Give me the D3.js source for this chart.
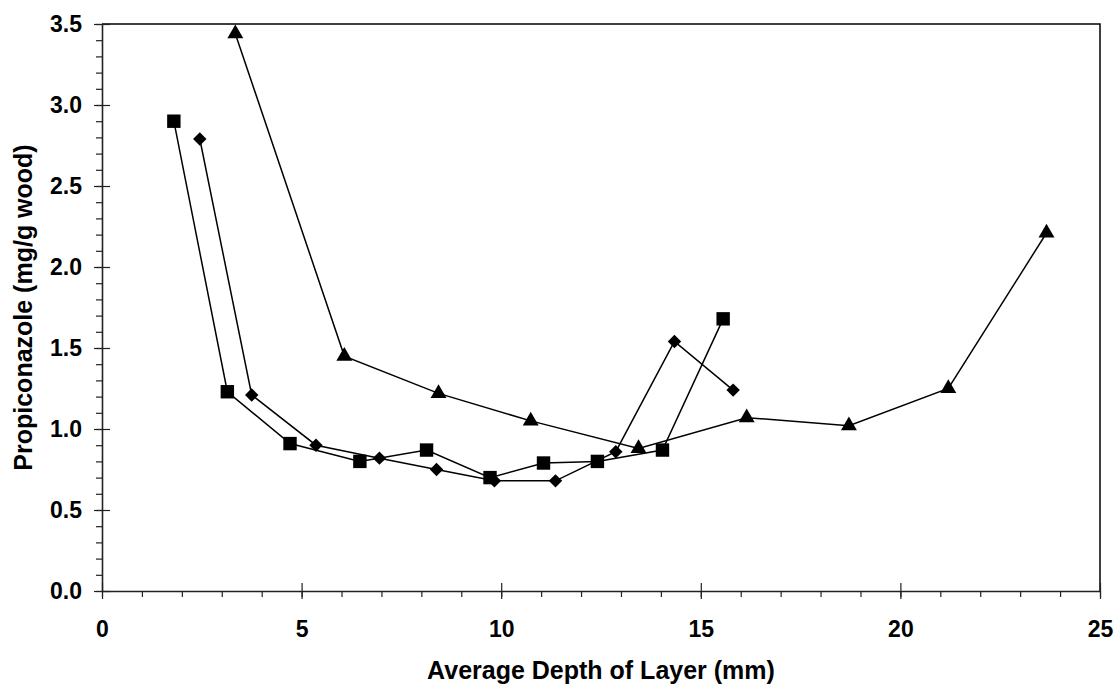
<!DOCTYPE html>
<html>
<head>
<meta charset="utf-8">
<script src="https://cdn.jsdelivr.net/npm/d3@7"></script>
<style>
  body { margin: 0; background: #fff; }
  text { font-family: "Liberation Sans", Arial, sans-serif; font-weight: bold; }
</style>
</head>
<body>
<svg id="chart" width="1117" height="686"></svg>
<script>
// data
var squareDepth = [1.80, 3.14, 4.71, 6.46, 8.13, 9.72, 11.06, 12.41, 14.04, 15.56];
var squareConc  = [2.90, 1.23, 0.91, 0.80, 0.87, 0.70, 0.79, 0.80, 0.87, 1.68];

var diamondDepth = [2.45, 3.75, 5.36, 6.95, 8.38, 9.83, 11.36, 12.87, 14.34, 15.81];
var diamondConc  = [2.79, 1.21, 0.90, 0.82, 0.75, 0.68, 0.68, 0.86, 1.54, 1.24];

var triangleDepth = [3.34, 6.07, 8.43, 10.74, 13.44, 16.15, 18.71, 21.20, 23.66];
var triangleConc  = [3.44, 1.45, 1.22, 1.05, 0.88, 1.07, 1.02, 1.25, 2.21];

var xTicks = [0, 5, 10, 15, 20, 25];
var yTicks = [0.0, 0.5, 1.0, 1.5, 2.0, 2.5, 3.0, 3.5];

var svg = d3.select("#chart"),
    margin = {top: 24, right: 17, bottom: 95, left: 102},
    width = +svg.attr("width"),
    height = +svg.attr("height");

var x = d3.scaleLinear().domain([0, 25]).range([margin.left, width - margin.right]);
var y = d3.scaleLinear().domain([0, 3.5]).range([height - margin.bottom, margin.top]);

// frame top + right
svg.append("path")
    .attr("d", "M" + x(0) + "," + y(3.5) + "H" + x(25) + "V" + y(0))
    .attr("fill", "none").attr("stroke", "#000").attr("stroke-width", 1.5);

// minor ticks
svg.append("g")
    .attr("transform", "translate(" + x(0) + ",0)")
    .call(d3.axisLeft(y).tickValues(d3.range(0, 36).map(function(i) { return i / 10; })).tickSize(6).tickFormat(""))
    .call(function(g) { g.select(".domain").remove(); });

svg.append("g")
    .attr("transform", "translate(0," + y(0) + ")")
    .call(d3.axisBottom(x).tickValues(d3.range(0, 26)).tickSize(6).tickFormat(""))
    .call(function(g) { g.select(".domain").remove(); });

// major axes
var yAxis = svg.append("g")
    .attr("transform", "translate(" + x(0) + ",0)")
    .call(d3.axisLeft(y).tickValues(yTicks).tickSizeInner(8).tickSizeOuter(0).tickPadding(12).tickFormat(d3.format(".1f")));
yAxis.selectAll(".tick line").attr("x2", 8).attr("x1", -8);
yAxis.selectAll("text").attr("font-size", 23).attr("fill", "#000");

var xAxis = svg.append("g")
    .attr("transform", "translate(0," + y(0) + ")")
    .call(d3.axisBottom(x).tickValues(xTicks).tickSizeInner(8).tickSizeOuter(0).tickPadding(22));
xAxis.selectAll(".tick line").attr("y1", -8).attr("y2", 8);
xAxis.selectAll("text").attr("font-size", 23).attr("fill", "#000");

svg.selectAll(".domain").attr("stroke", "#222").attr("stroke-width", 1.6);
svg.selectAll(".tick line").attr("stroke", "#222").attr("stroke-width", 1.2);

// titles
svg.append("text")
    .attr("x", (x(0) + x(25)) / 2)
    .attr("y", 679)
    .attr("text-anchor", "middle")
    .attr("font-size", 25)
    .text("Average Depth of Layer (mm)");

svg.append("text")
    .attr("transform", "translate(32," + (y(0) + y(3.5)) / 2 + ") rotate(-90)")
    .attr("text-anchor", "middle")
    .attr("font-size", 25)
    .text("Propiconazole (mg/g wood)");

// series
var series = [
  {depth: squareDepth, conc: squareConc, symbol: d3.symbolSquare, size: 180, rot: 0},
  {depth: diamondDepth, conc: diamondConc, symbol: d3.symbolSquare, size: 90, rot: 45},
  {depth: triangleDepth, conc: triangleConc, symbol: d3.symbolTriangle, size: 110, rot: 0}
];

var line = d3.line()
    .x(function(d) { return x(d[0]); })
    .y(function(d) { return y(d[1]); });

series.forEach(function(s) {
  var pts = d3.zip(s.depth, s.conc);
  svg.append("path")
      .datum(pts)
      .attr("fill", "none")
      .attr("stroke", "#000")
      .attr("stroke-width", 1.5)
      .attr("d", line);
  svg.append("g").selectAll("path")
      .data(pts)
      .enter().append("path")
      .attr("d", d3.symbol().type(s.symbol).size(s.size))
      .attr("transform", function(d) { return "translate(" + x(d[0]) + "," + y(d[1]) + ") rotate(" + s.rot + ")"; })
      .attr("fill", "#000");
});
</script>
</body>
</html>
